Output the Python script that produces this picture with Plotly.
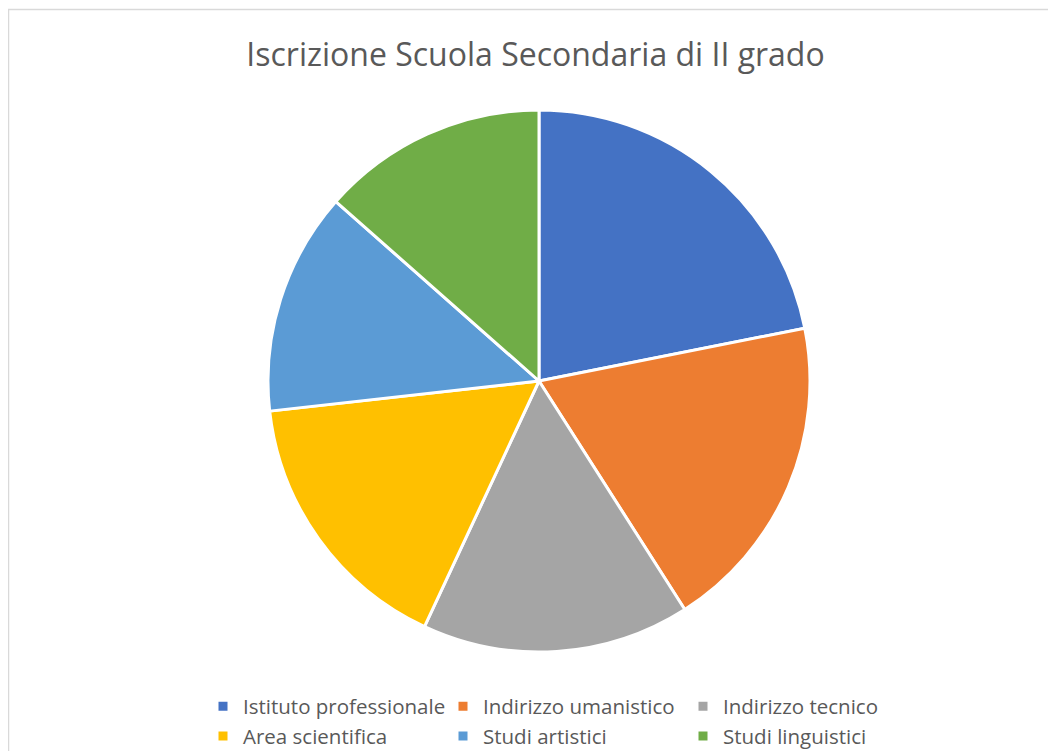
import plotly.graph_objects as go

categories = ["Istituto professionale", "Indirizzo umanistico", "Indirizzo tecnico",
              "Area scientifica", "Studi artistici", "Studi linguistici"]
values = [21.9, 19.1, 16.0, 16.3, 13.3, 13.5]
colors = ["#4472C4", "#ED7D31", "#A5A5A5", "#FFC000", "#5B9BD5", "#70AD47"]
title_text = "Iscrizione Scuola Secondaria di II grado"

W, H = 1056, 751
ML, MR = 100, 100
PW = W - ML - MR
cx, cy, r = 531, 373, 271

def px(x):
    return (x - ML) / PW

def py(y):
    return 1 - y / H

fig = go.Figure(go.Pie(
    labels=categories, values=values, sort=False, direction="clockwise", rotation=0,
    marker=dict(colors=colors, line=dict(color="white", width=3)),
    textinfo="none", hoverinfo="label+value",
    domain=dict(x=[px(cx - r), px(cx + r)], y=[py(cy + r), py(cy - r)]),
))

fig.update_layout(
    width=W, height=H,
    margin=dict(l=ML, r=MR, t=0, b=0, autoexpand=False),
    paper_bgcolor="white", plot_bgcolor="white",
    font=dict(family="Open Sans", color="#595959"),
    title=dict(text=title_text, x=527.5 / W, xanchor="center", y=1 - 47 / H, yanchor="middle",
               font=dict(size=32, color="#595959", family="Open Sans")),
    legend=dict(orientation="h", x=px(195), xanchor="left", y=py(678.5), yanchor="top",
                entrywidth=195, entrywidthmode="pixels",
                font=dict(size=20.5, color="#595959"), itemclick=False),
    shapes=[dict(type="rect", xref="paper", yref="paper",
                 x0=px(0.5), x1=px(W + 10), y0=py(H + 10), y1=py(1.5),
                 line=dict(color="#d9d9d9", width=1.5), fillcolor="rgba(0,0,0,0)", layer="below")],
)

fig.write_html("out.html")
